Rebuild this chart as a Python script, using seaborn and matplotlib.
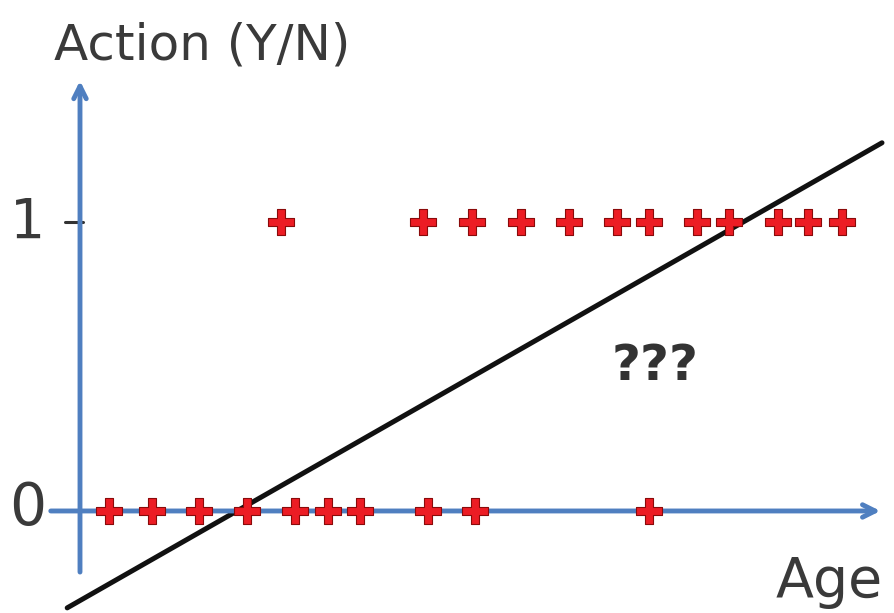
import numpy as np
import pandas as pd
import matplotlib
matplotlib.use("Agg")
import matplotlib.pyplot as plt
import seaborn as sns

# ages of people who did not act (0) and did act (1)
age_no = [3.6, 9.0, 14.9, 20.9, 26.9, 31.0, 35.0, 43.5, 49.4, 71.1]
age_yes = [25.1, 42.9, 49.0, 55.1, 61.1, 67.1, 71.1, 77.1, 81.1, 87.3, 91.0, 95.3]

# straight-line fit drawn across the plot
line_intercept = -0.31
line_slope = 0.0158
line_age_range = [-1.6, 100.25]

df = pd.DataFrame({
    "Age": age_no + age_yes,
    "Action": [0] * len(age_no) + [1] * len(age_yes),
})

sns.set_style("white")
plt.rcParams['font.family'] = ['DejaVu Sans']

fig = plt.figure(figsize=(8.95, 6.13), dpi=100)
ax = fig.add_axes([0, 0, 1, 1])
ax.set_xlim(-10, 101.875)
ax.set_ylim(-0.353, 1.768)
ax.axis("off")

blue = "#4f7fc0"
# axes drawn as arrows
ax.annotate("", xy=(0, 1.498), xytext=(0, -0.221),
            arrowprops=dict(arrowstyle="->,head_length=0.9,head_width=0.45", color=blue, lw=3.5))
ax.annotate("", xy=(100.4, 0), xytext=(-4, 0),
            arrowprops=dict(arrowstyle="->,head_length=0.9,head_width=0.45", color=blue, lw=3.5))
ax.plot([-1.9, 0.4], [1, 1], color="#333333", lw=2.2)

# fitted line
lx = np.array(line_age_range)
sns.lineplot(x=lx, y=line_intercept + line_slope * lx, color="#111111", lw=3.6, ax=ax)

# data points
sns.scatterplot(data=df, x="Age", y="Action", marker="P", s=350,
                color="#ec1c24", edgecolor="#8a0a0a", linewidth=0.8, ax=ax, zorder=5)

txt = "#3a3a3a"
ax.text(-6.6, 0.945, "1", fontsize=40, color=txt, ha="center", va="baseline")
ax.text(-6.5, 0.01, "0", fontsize=42, color=txt, ha="center", va="center")
ax.text(-3.2, 1.561, "Action (Y/N)", fontsize=36, color=txt, ha="left", va="baseline")
ax.text(100.4, -0.298, "Age", fontsize=40, color=txt, ha="right", va="baseline")
ax.text(71.9, 0.5, "???", fontsize=36, color="#333333", ha="center", va="center", fontweight="heavy")

ax.set_xlabel("")
ax.set_ylabel("")
fig.savefig("out.png", dpi=100)
